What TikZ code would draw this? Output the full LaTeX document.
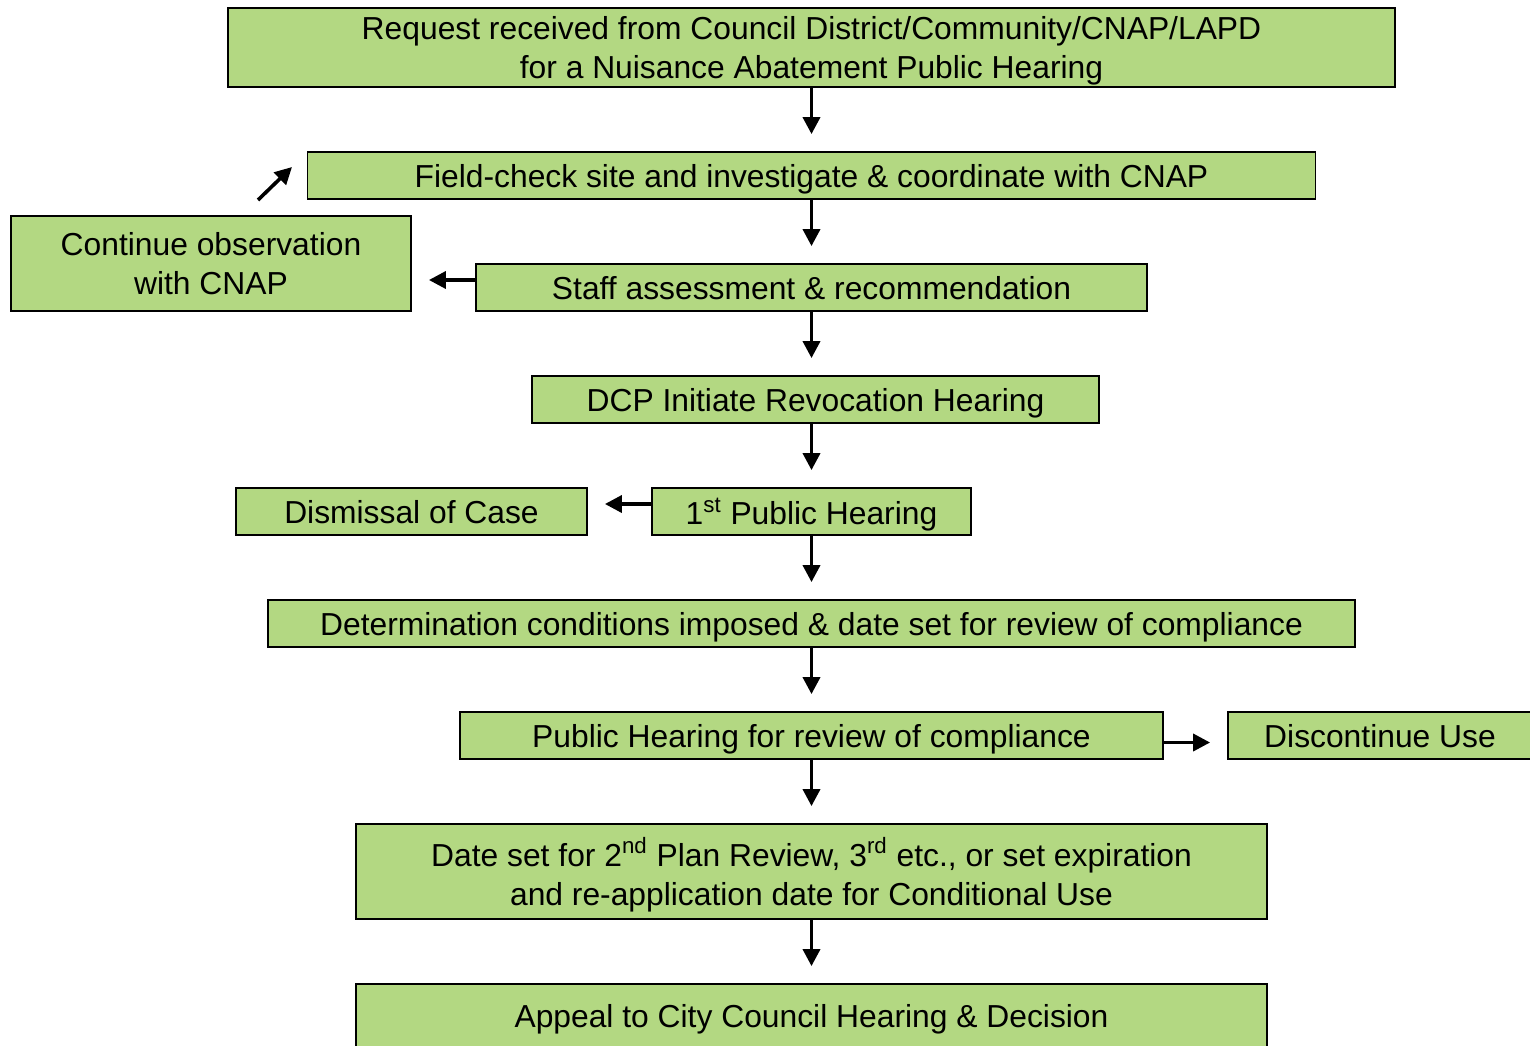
\documentclass[tikz,border=0pt]{standalone}
\usepackage{fontspec}
\setmainfont{Liberation Sans}
\usetikzlibrary{arrows.meta}
\definecolor{boxgreen}{RGB}{179,216,130}
\tikzset{
  box/.style={draw=black, line width=0.9pt, fill=boxgreen, inner sep=0pt, align=center,
    minimum height=23.5pt, text depth=-1pt, font=\fontsize{15.9pt}{19.5pt}\selectfont},
  arr/.style={line width=1.8pt, -{Triangle[length=8.5pt,width=8.5pt]}, shorten >=8.5pt}
}
\begin{document}
\begin{tikzpicture}[x=0.5pt,y=-0.5pt]
\useasboundingbox (0,0) rectangle (1530,1045);
\node[box, minimum width=583.5pt, minimum height=39.5pt] (req) at (811.5,47.5) {Request received from Council District/Community/CNAP/LAPD\\for a Nuisance Abatement Public Hearing};
\node[box, minimum width=504pt] (field) at (811.5,175.5) {Field-check site and investigate \& coordinate with CNAP};
\node[box, minimum width=200pt, minimum height=47.5pt] (cont) at (211,263.5) {Continue observation\\with CNAP};
\node[box, minimum width=335.5pt] (staff) at (811.5,287.5) {Staff assessment \& recommendation};
\node[box, minimum width=283.5pt] (dcp) at (815.5,399.5) {DCP Initiate Revocation Hearing};
\node[box, minimum width=175.5pt] (dism) at (411.5,511.5) {Dismissal of Case};
\node[box, minimum width=159.5pt] (first) at (811.5,511.5) {1\textsuperscript{st} Public Hearing};
\node[box, minimum width=543.5pt] (det) at (811.5,623.5) {Determination conditions imposed \& date set for review of compliance};
\node[box, minimum width=351.5pt] (rev) at (811.5,735.5) {Public Hearing for review of compliance};
\node[box, minimum width=152pt] (disc) at (1380,735.5) {Discontinue Use};
\node[box, minimum width=455.5pt, minimum height=47.5pt] (date) at (811.5,871.5) {Date set for 2\textsuperscript{nd} Plan Review, 3\textsuperscript{rd} etc., or set expiration\\and re-application date for Conditional Use};
\node[box, minimum width=455.5pt, minimum height=31.5pt] (app) at (811.5,1015.5) {Appeal to City Council Hearing \& Decision};
\coordinate (obsA) at (258,200);
\coordinate (obsB) at (292,167);
% main line
\draw[arr] (req) -- (field);
\draw[arr] (field) -- (staff);
\draw[arr] (staff) -- (staff.south |- dcp.north);
\draw[arr] (first.north |- dcp.south) -- (first);
\draw[arr] (first) -- (det);
\draw[arr] (det) -- (rev);
\draw[arr] (rev) -- (date);
\draw[arr] (date) -- (app);
% side branches
\draw[arr] ([yshift=3.75pt]staff.west) -- ([yshift=3.75pt]staff.west -| cont.east);
\draw[arr] ([yshift=3.75pt]first.west) -- ([yshift=3.75pt]first.west -| dism.east);
\draw[arr] ([yshift=-3.5pt]rev.east) -- ([yshift=-3.5pt]rev.east -| disc.west);
\draw[line width=1.8pt, -{Triangle[length=8.5pt,width=8.5pt]}] (obsA) -- (obsB);
\end{tikzpicture}
\end{document}
